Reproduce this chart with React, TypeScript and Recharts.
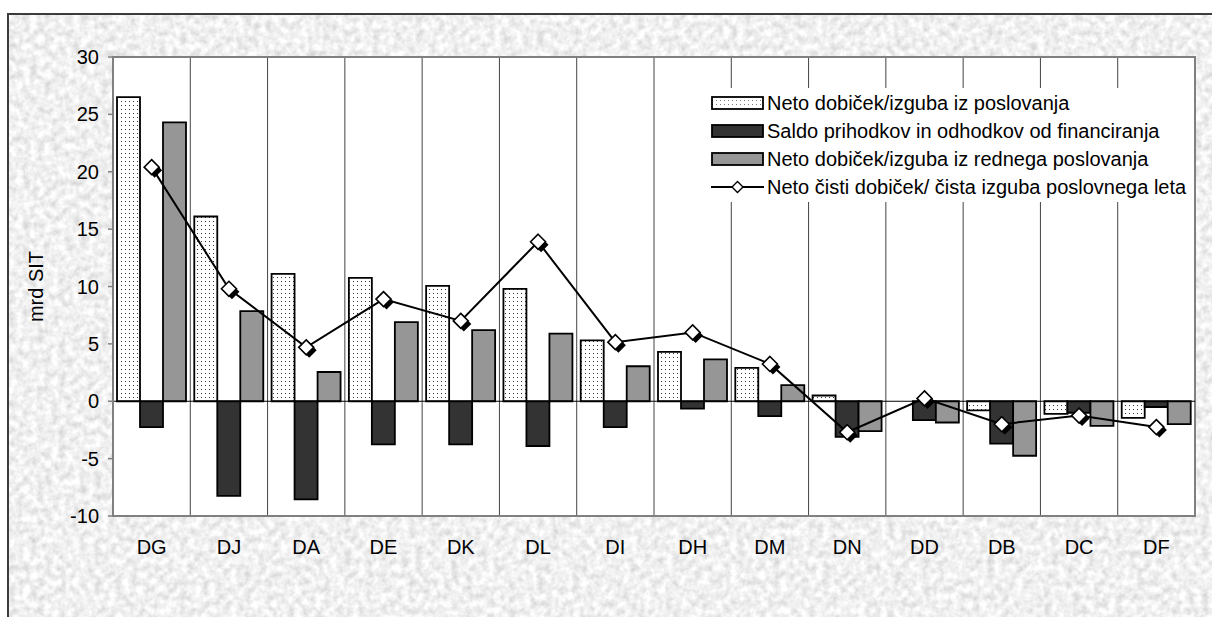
import React from 'react';
import {
  ComposedChart,
  Bar,
  Line,
  XAxis,
  YAxis,
  CartesianGrid,
  Legend,
  ReferenceArea,
  ReferenceLine,
} from 'recharts';

const FONT = '"Liberation Sans", Arial, sans-serif';

// panoge (kategorije)
const categories = ['DG', 'DJ', 'DA', 'DE', 'DK', 'DL', 'DI', 'DH', 'DM', 'DN', 'DD', 'DB', 'DC', 'DF'];

// mrd SIT
const poslovanje = [26.5, 16.1, 11.1, 10.75, 10.05, 9.8, 5.3, 4.3, 2.9, 0.5, 0, -0.8, -1.1, -1.45];
const financiranje = [-2.25, -8.25, -8.55, -3.75, -3.75, -3.9, -2.25, -0.65, -1.3, -3.1, -1.65, -3.7, -1.0, -0.5];
const redno = [24.3, 7.85, 2.55, 6.9, 6.2, 5.9, 3.05, 3.65, 1.4, -2.6, -1.85, -4.75, -2.15, -2.0];
const cisti = [20.4, 9.8, 4.7, 8.9, 7.0, 13.9, 5.15, 6.0, 3.25, -2.7, 0.25, -2.0, -1.25, -2.25];

const yTicks = [-10, -5, 0, 5, 10, 15, 20, 25, 30];

const seriesNames = [
  'Neto dobiček/izguba iz poslovanja',
  'Saldo prihodkov in odhodkov od financiranja',
  'Neto dobiček/izguba iz rednega poslovanja',
  'Neto čisti dobiček/ čista izguba poslovnega leta',
];

const data = categories.map((name, i) => ({
  name,
  poslovanje: poslovanje[i],
  financiranje: financiranje[i],
  redno: redno[i],
  cisti: cisti[i],
}));

const diamondPath = (x: number, y: number, r: number) =>
  `M${x},${y - r} L${x + r},${y} L${x},${y + r} L${x - r},${y} Z`;

const renderDiamond = (props: any) => {
  const { cx, cy, index } = props;
  if (cx == null || cy == null) return <g key={`d${index}`} />;
  return (
    <g key={`d${index}`}>
      <path d={diamondPath(cx + 3, cy + 3, 7.5)} fill="#000" />
      <path d={diamondPath(cx, cy, 7.5)} fill="#fff" stroke="#000" strokeWidth={1.6} />
    </g>
  );
};

function LegendBox() {
  const swatch = (kind: number) => {
    if (kind === 3) {
      return (
        <svg width={53} height={16} style={{ display: 'block' }}>
          <line x1={0} y1={8} x2={53} y2={8} stroke="#000" strokeWidth={1.8} />
          <path d={diamondPath(26.5, 8, 5.5)} fill="#fff" stroke="#000" strokeWidth={1.4} />
        </svg>
      );
    }
    const fill = kind === 0 ? 'url(#legendDots)' : kind === 1 ? '#333' : '#969696';
    return (
      <svg width={53} height={16} style={{ display: 'block' }}>
        <defs>
          <pattern id="legendDots" width={4} height={4} patternUnits="userSpaceOnUse">
            <rect width={4} height={4} fill="#fff" />
            <rect x={1} y={1} width={1} height={1} fill="#777" />
          </pattern>
        </defs>
        <rect x={1} y={2} width={51} height={12} fill={fill} stroke="#000" strokeWidth={1.8} />
      </svg>
    );
  };
  return (
    <div style={{ background: '#fff', width: 488, height: 114, paddingTop: 1, boxSizing: 'border-box' }}>
      {seriesNames.map((n, i) => (
        <div key={n} style={{ display: 'flex', alignItems: 'center', height: 28, paddingLeft: 6 }}>
          {swatch(i)}
          <span style={{ marginLeft: 3, fontSize: 20, fontFamily: FONT, color: '#000', whiteSpace: 'nowrap' }}>{n}</span>
        </div>
      ))}
    </div>
  );
}

export default function App() {
  return (
    <div style={{ position: 'fixed', left: 0, top: 0, width: 1212, height: 617, overflow: 'hidden', fontFamily: FONT }}>
      <div
        style={{
          position: 'absolute',
          left: 7,
          top: 13,
          width: 1400,
          height: 800,
          border: '2px solid #3c3c3c',
          overflow: 'hidden',
          background: '#e2e2e2',
        }}
      >
        <svg width={1400} height={800} style={{ position: 'absolute', left: 0, top: 0 }}>
          <filter id="marble">
            <feTurbulence type="fractalNoise" baseFrequency="0.14" numOctaves={3} seed={4} />
            <feColorMatrix
              type="matrix"
              values="0.55 0 0 0 0.6  0.55 0 0 0 0.6  0.55 0 0 0 0.6  0 0 0 0 1"
            />
          </filter>
          <rect width={1400} height={800} filter="url(#marble)" />
        </svg>
      </div>
      <div style={{ position: 'absolute', left: 0, top: 0 }}>
        <ComposedChart
          width={1212}
          height={617}
          data={data}
          margin={{ top: 57, right: 17, bottom: 61, left: 0 }}
          barGap={0}
          barSize={23}
        >
          <defs>
            <pattern id="dots" width={4} height={4} patternUnits="userSpaceOnUse">
              <rect width={4} height={4} fill="#fff" />
              <rect x={1} y={1} width={1} height={1} fill="#333" />
            </pattern>
          </defs>
          <CartesianGrid
            horizontal={false}
            fill="#fff"
            stroke="#444"
            strokeWidth={1}
            verticalCoordinatesGenerator={({ offset }: any) =>
              categories.slice(1).map((_, i) => offset.left + ((i + 1) * offset.width) / categories.length)
            }
          />
          <XAxis
            dataKey="name"
            axisLine={false}
            tickLine={false}
            tickSize={0}
            tickMargin={24}
            height={40}
            tick={{ fill: '#000', fontSize: 20, fontFamily: FONT }}
            interval={0}
          />
          <YAxis
            width={113}
            domain={[-10, 30]}
            ticks={yTicks}
            interval={0}
            tickSize={5}
            tickMargin={9}
            axisLine={{ stroke: '#808080', strokeWidth: 2 }}
            tickLine={{ stroke: '#808080', strokeWidth: 1.5 }}
            tick={{ fill: '#000', fontSize: 20, fontFamily: FONT }}
            label={{
              content: ({ viewBox }: any) => {
                const x = viewBox.x + 36;
                const y = viewBox.y + viewBox.height / 2;
                return (
                  <text
                    x={x}
                    y={y}
                    transform={`rotate(-90, ${x}, ${y})`}
                    textAnchor="middle"
                    dominantBaseline="central"
                    fontSize={20}
                    fontFamily={FONT}
                    fill="#000"
                  >
                    mrd SIT
                  </text>
                );
              },
            }}
          />
          <Bar dataKey="poslovanje" name={seriesNames[0]} fill="url(#dots)" stroke="#000" strokeWidth={1.8} isAnimationActive={false} />
          <Bar dataKey="financiranje" name={seriesNames[1]} fill="#333333" stroke="#000" strokeWidth={1.8} isAnimationActive={false} />
          <Bar dataKey="redno" name={seriesNames[2]} fill="#969696" stroke="#000" strokeWidth={1.8} isAnimationActive={false} />
          <ReferenceLine y={0} stroke="#000" strokeWidth={1.2} />
          <Line
            dataKey="cisti"
            name={seriesNames[3]}
            type="linear"
            stroke="#000"
            strokeWidth={2}
            dot={renderDiamond}
            activeDot={false}
            isAnimationActive={false}
          />
          <ReferenceArea y1={-10} y2={30} fill="none" stroke="#808080" strokeWidth={2} ifOverflow="visible" />
          <Legend
            layout="horizontal"
            verticalAlign="middle"
            align="center"
            content={() => <LegendBox />}
            wrapperStyle={{ position: 'absolute', left: 705, top: 88, width: 488, height: 114, margin: 0 }}
          />
        </ComposedChart>
      </div>
    </div>
  );
}
